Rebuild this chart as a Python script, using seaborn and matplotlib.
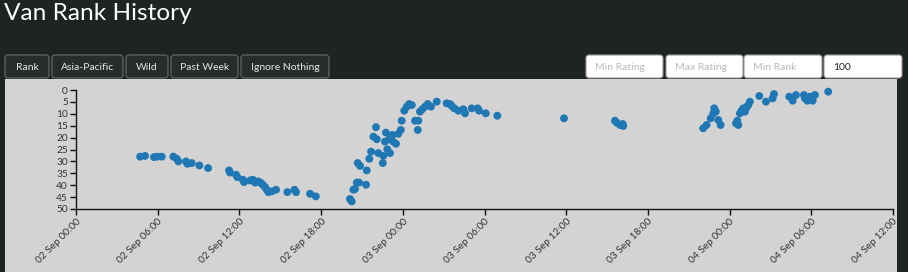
import matplotlib
matplotlib.use("Agg")
import matplotlib.pyplot as plt
import matplotlib.dates as mdates
from matplotlib.patches import Rectangle, FancyBboxPatch
import pandas as pd
import seaborn as sns

# ---- data (hours after 02 Sep 00:00, rank) ----
hours = [4.71, 5.07, 5.73, 5.98, 6.30, 7.15, 7.40, 7.52, 8.08, 8.18, 8.50, 9.06, 9.70,
         11.24, 11.31, 11.75, 11.85, 12.25, 12.34, 12.78, 12.98, 13.15, 13.39, 13.59,
         13.72, 13.88, 14.01, 14.13, 14.38, 14.69, 15.52, 16.04, 16.16, 17.19, 17.61,
         20.12, 20.25, 20.37, 20.49, 20.62, 20.79, 21.30, 20.69, 20.86, 21.35, 21.54,
         21.67, 22.20, 22.53, 22.57, 22.86, 23.06, 21.84, 22.09, 22.03, 22.69, 22.76,
         23.01, 23.23, 23.30, 23.50, 23.67, 23.85, 23.92, 24.11, 24.29, 24.46, 24.66,
         24.90, 25.14, 25.10, 25.26, 25.43, 25.63, 25.83, 26.07, 26.49, 27.22, 27.47,
         27.59, 27.78, 28.08, 28.44, 28.57, 29.06, 29.50, 29.60, 30.09, 30.94,
         35.84, 39.58, 39.71, 39.95, 40.15, 40.19,
         46.06, 46.31, 46.61, 46.80, 46.87, 46.99, 47.17, 47.34, 48.47, 48.57, 48.64,
         48.76, 48.88, 49.00, 49.13, 49.25, 49.37, 49.49, 50.18, 50.67, 51.16, 51.26,
         52.38, 52.63, 52.87, 53.46, 53.53, 53.70, 53.90, 54.10, 54.27, 55.24]
ranks = [28.0, 27.7, 28.2, 28.0, 28.0, 28.0, 28.9, 30.0, 30.0, 31.0, 30.7, 31.7, 32.8,
         33.8, 34.7, 35.6, 36.6, 37.7, 38.7, 38.0, 37.7, 38.9, 38.4, 39.1,
         39.8, 40.8, 41.9, 42.9, 42.6, 41.9, 42.9, 41.9, 42.9, 43.6, 44.7,
         45.8, 46.8, 41.9, 41.6, 38.9, 38.9, 39.8, 30.7, 31.9, 33.8, 28.9,
         25.9, 26.5, 30.7, 27.7, 24.9, 26.5, 19.6, 20.7, 15.6, 21.7, 17.9,
         20.7, 18.9, 21.7, 22.6, 18.4, 16.8, 12.9, 8.7, 7.0, 5.9, 6.3,
         12.9, 12.9, 16.8, 9.1, 8.1, 7.0, 5.9, 7.0, 4.9, 5.6, 5.9,
         6.7, 7.7, 8.7, 8.1, 9.8, 7.7, 7.7, 8.7, 9.8, 10.8,
         11.9, 12.9, 13.7, 14.7, 14.3, 15.1,
         16.1, 14.7, 11.9, 9.8, 7.7, 9.1, 12.6, 14.7, 14.0, 12.9, 14.7,
         9.8, 8.7, 7.7, 9.1, 7.3, 6.3, 4.9, 2.5, 4.9, 3.5, 1.7,
         2.8, 4.5, 2.1, 2.1, 3.5, 4.5, 2.8, 4.5, 2.1, 0.7]
y_ticks = [0, 5, 10, 15, 20, 25, 30, 35, 40, 45, 50]
buttons = ["Rank", "Asia-Pacific", "Wild", "Past Week", "Ignore Nothing"]
inputs = ["Min Rating", "Max Rating", "Min Rank", "100"]
title = "Van Rank History"

start = pd.Timestamp("2023-09-02 00:00")
df = pd.DataFrame({"time": start + pd.to_timedelta(hours, unit="h"), "rank": ranks})

plt.rcParams["font.family"] = ["Lato", "DejaVu Sans"]

W, H = 908, 272
BG = "#1e2323"
fig = plt.figure(figsize=(W / 100, H / 100), dpi=100, facecolor=BG)
T = fig.dpi_scale_trans


def box(x0, y0, x1, y1, fc, ec, r=3, lw=1.0, z=1):
    p = FancyBboxPatch((x0 / 100, (H - y1) / 100), (x1 - x0) / 100, (y1 - y0) / 100,
                       boxstyle=f"round,pad=0,rounding_size={r / 100}", transform=T,
                       facecolor=fc, edgecolor=ec, linewidth=lw, zorder=z)
    fig.add_artist(p)
    return p


def txt(x, y, s, **kw):
    return fig.text(x / 100, (H - y) / 100, s, transform=T, **kw)


# gray chart panel
fig.add_artist(Rectangle((5 / 100, 0), (897 - 5) / 100, (H - 79) / 100, transform=T,
                         facecolor="#d3d3d3", edgecolor="none", zorder=-5))

# title
txt(4, 20, title, color="white", fontsize=17.6, va="baseline", ha="left")

# buttons
bx = [(5, 49), (52, 123), (126, 168), (171, 238), (241, 329)]
for (x0, x1), lab in zip(bx, buttons):
    box(x0, 55, x1, 78, "#272c2c", "#5a5e5e", r=3, lw=1.0)
    txt((x0 + x1) / 2, 67, lab, color="#e8e8e8", fontsize=7.5, ha="center", va="center")

# input boxes
ix = [(586, 663), (666, 743), (744, 822), (824, 902)]
for i, ((x0, x1), lab) in enumerate(zip(ix, inputs)):
    p = box(x0, 55, x1, 78, "white", "#9a9a9a", r=3, lw=0.8)
    t = txt(x0 + 9, 67, lab, color="#b8b8b8" if i < 3 else "#222222",
            fontsize=7.5, ha="left", va="center")
    t.set_clip_path(p)

# axes
ax = fig.add_axes([76 / W, 1 - 209 / H, (893 - 76) / W, (209 - 90) / H])
ax.patch.set_alpha(0)
sns.scatterplot(data=df, x="time", y="rank", ax=ax, s=32, color="#1f77b4",
                edgecolor="none", linewidth=0, alpha=1, clip_on=False)
ax.set_xlim(start, start + pd.Timedelta(hours=60))
ax.set_ylim(50, 0)
ax.set_yticks(y_ticks)
ax.xaxis.set_major_locator(mdates.HourLocator(byhour=[0, 6, 12, 18]))
ax.xaxis.set_major_formatter(mdates.DateFormatter("%d %b %H:%M"))
ax.set_xlabel("")
ax.set_ylabel("")
for s in ["top", "right"]:
    ax.spines[s].set_visible(False)
for s in ["left", "bottom"]:
    ax.spines[s].set_color("#111111")
    ax.spines[s].set_linewidth(1.0)
ax.tick_params(axis="both", length=4.3, width=1.0, color="#111111",
               labelsize=7.3, labelcolor="#333333", pad=1.5)
for lab in ax.get_xticklabels():
    lab.set_rotation(45)
    lab.set_ha("right")
    lab.set_va("top")
    lab.set_rotation_mode("anchor")
ax.grid(False)

fig.savefig("out.png", dpi=100, facecolor=BG)
